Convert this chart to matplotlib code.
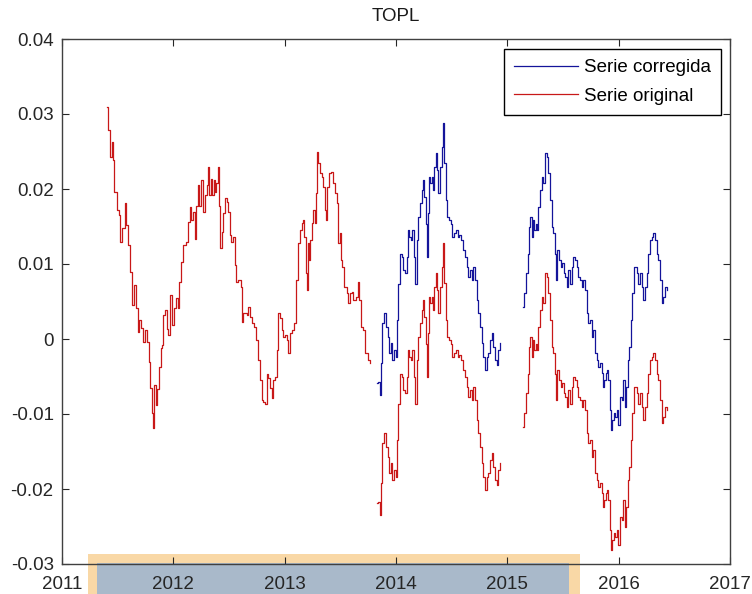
import matplotlib
matplotlib.use("Agg")
import matplotlib.pyplot as plt
from matplotlib.patches import Rectangle

plt.rcParams['font.family'] = ['Liberation Sans', 'DejaVu Sans']

# tramo 1 (solo serie original)
anio_1 = [2011.404, 2011.413, 2011.431, 2011.449, 2011.453, 2011.458, 2011.467, 2011.494, 2011.512, 2011.521,
          2011.539, 2011.566, 2011.575, 2011.593, 2011.611, 2011.629, 2011.647, 2011.665, 2011.683, 2011.692,
          2011.710, 2011.728, 2011.746, 2011.763, 2011.781, 2011.790, 2011.808, 2011.817, 2011.826, 2011.844,
          2011.853, 2011.871, 2011.889, 2011.898, 2011.907, 2011.925, 2011.943, 2011.952, 2011.970, 2011.988,
          2012.006, 2012.024, 2012.042, 2012.051, 2012.069, 2012.087, 2012.114, 2012.132, 2012.150, 2012.159,
          2012.177, 2012.195, 2012.204, 2012.222, 2012.231, 2012.249, 2012.266, 2012.284, 2012.302, 2012.311,
          2012.320, 2012.338, 2012.347, 2012.365, 2012.374, 2012.383, 2012.401, 2012.410, 2012.419, 2012.437,
          2012.446, 2012.464, 2012.482, 2012.491, 2012.509, 2012.518, 2012.536, 2012.554, 2012.563, 2012.581,
          2012.608, 2012.617, 2012.626, 2012.662, 2012.671, 2012.689, 2012.707, 2012.725, 2012.743, 2012.760,
          2012.778, 2012.796, 2012.805, 2012.823, 2012.841, 2012.850, 2012.868, 2012.886, 2012.895, 2012.913,
          2012.931, 2012.940, 2012.958, 2012.976, 2012.985, 2013.003, 2013.021, 2013.030, 2013.048, 2013.066,
          2013.084, 2013.102, 2013.120, 2013.138, 2013.156, 2013.165, 2013.174, 2013.192, 2013.201, 2013.210,
          2013.219, 2013.228, 2013.246, 2013.255, 2013.272, 2013.281, 2013.290, 2013.299, 2013.317, 2013.335,
          2013.344, 2013.362, 2013.371, 2013.380, 2013.398, 2013.416, 2013.434, 2013.452, 2013.470, 2013.479,
          2013.497, 2013.506, 2013.515, 2013.533, 2013.560, 2013.569, 2013.587, 2013.605, 2013.614, 2013.641,
          2013.659, 2013.668, 2013.686, 2013.704, 2013.721, 2013.748, 2013.766]
orig_1 = [0.0310, 0.0279, 0.0243, 0.0256, 0.0263, 0.0239, 0.0196, 0.0172, 0.0165, 0.0130,
          0.0148, 0.0181, 0.0152, 0.0125, 0.0090, 0.0045, 0.0072, 0.0041, 0.0010, 0.0025,
          0.0015, -0.0004, 0.0012, -0.0004, -0.0030, -0.0065, -0.0099, -0.0119, -0.0061, -0.0088,
          -0.0066, -0.0037, -0.0012, -0.0008, 0.0032, 0.0039, 0.0014, 0.0005, 0.0059, 0.0019,
          0.0041, 0.0055, 0.0041, 0.0076, 0.0103, 0.0125, 0.0129, 0.0156, 0.0176, 0.0159,
          0.0170, 0.0134, 0.0178, 0.0205, 0.0178, 0.0212, 0.0170, 0.0192, 0.0205, 0.0229,
          0.0192, 0.0214, 0.0192, 0.0212, 0.0196, 0.0208, 0.0229, 0.0178, 0.0121, 0.0143,
          0.0168, 0.0188, 0.0183, 0.0170, 0.0139, 0.0129, 0.0136, 0.0099, 0.0076, 0.0079,
          0.0069, 0.0023, 0.0035, 0.0032, 0.0043, 0.0030, 0.0021, 0.0016, -0.0001, -0.0028,
          -0.0055, -0.0081, -0.0084, -0.0086, -0.0046, -0.0052, -0.0065, -0.0079, -0.0055, -0.0050,
          -0.0015, 0.0035, 0.0028, 0.0012, 0.0003, 0.0005, -0.0001, -0.0019, 0.0008, 0.0012,
          0.0021, 0.0079, 0.0128, 0.0145, 0.0155, 0.0159, 0.0136, 0.0088, 0.0065, 0.0128,
          0.0105, 0.0132, 0.0155, 0.0172, 0.0155, 0.0195, 0.0250, 0.0235, 0.0221, 0.0216,
          0.0203, 0.0172, 0.0159, 0.0203, 0.0221, 0.0223, 0.0208, 0.0195, 0.0181, 0.0128,
          0.0141, 0.0105, 0.0096, 0.0069, 0.0061, 0.0048, 0.0061, 0.0063, 0.0052, 0.0056,
          0.0076, 0.0052, 0.0016, 0.0012, -0.0019, -0.0028, -0.0032]

# tramo 2
anio_2 = [2013.829, 2013.838, 2013.856, 2013.865, 2013.874, 2013.892, 2013.910, 2013.928, 2013.937, 2013.955,
          2013.964, 2013.982, 2014.000, 2014.009, 2014.018, 2014.036, 2014.054, 2014.063, 2014.081, 2014.099,
          2014.108, 2014.117, 2014.135, 2014.144, 2014.162, 2014.171, 2014.189, 2014.198, 2014.216, 2014.234,
          2014.243, 2014.252, 2014.269, 2014.278, 2014.287, 2014.296, 2014.305, 2014.323, 2014.332, 2014.341,
          2014.359, 2014.368, 2014.377, 2014.395, 2014.413, 2014.422, 2014.431, 2014.449, 2014.458, 2014.476,
          2014.494, 2014.503, 2014.521, 2014.539, 2014.557, 2014.566, 2014.584, 2014.602, 2014.620, 2014.638,
          2014.647, 2014.665, 2014.683, 2014.692, 2014.710, 2014.728, 2014.737, 2014.754, 2014.772, 2014.781,
          2014.799, 2014.817, 2014.826, 2014.844, 2014.862, 2014.871, 2014.889, 2014.907, 2014.916, 2014.934]
orig_2 = [-0.0219, -0.0217, -0.0235, -0.0192, -0.0139, -0.0125, -0.0144, -0.0157, -0.0179, -0.0165,
          -0.0188, -0.0175, -0.0184, -0.0135, -0.0086, -0.0046, -0.0050, -0.0068, -0.0072, -0.0050,
          -0.0015, -0.0024, -0.0028, -0.0015, -0.0050, -0.0086, -0.0028, 0.0003, 0.0021, 0.0039,
          0.0052, 0.0030, -0.0006, -0.0050, 0.0008, 0.0056, 0.0048, 0.0056, 0.0039, 0.0069,
          0.0088, 0.0065, 0.0035, 0.0069, 0.0096, 0.0128, 0.0075, 0.0025, 0.0003, -0.0001,
          -0.0006, -0.0024, -0.0019, -0.0015, -0.0024, -0.0021, -0.0028, -0.0041, -0.0050, -0.0064,
          -0.0077, -0.0068, -0.0081, -0.0064, -0.0081, -0.0108, -0.0125, -0.0144, -0.0165, -0.0184,
          -0.0201, -0.0184, -0.0179, -0.0161, -0.0152, -0.0171, -0.0188, -0.0195, -0.0175, -0.0165]
corr_2 = [-0.0059, -0.0057, -0.0075, -0.0032, 0.0021, 0.0035, 0.0016, 0.0003, -0.0019, -0.0005,
          -0.0028, -0.0015, -0.0024, 0.0025, 0.0074, 0.0114, 0.0110, 0.0092, 0.0088, 0.0110,
          0.0145, 0.0136, 0.0132, 0.0145, 0.0110, 0.0074, 0.0132, 0.0163, 0.0181, 0.0199,
          0.0212, 0.0190, 0.0154, 0.0110, 0.0168, 0.0216, 0.0208, 0.0216, 0.0199, 0.0229,
          0.0248, 0.0225, 0.0195, 0.0229, 0.0256, 0.0288, 0.0235, 0.0185, 0.0163, 0.0159,
          0.0154, 0.0136, 0.0141, 0.0145, 0.0136, 0.0139, 0.0132, 0.0119, 0.0110, 0.0096,
          0.0083, 0.0092, 0.0079, 0.0096, 0.0079, 0.0052, 0.0035, 0.0016, -0.0005, -0.0024,
          -0.0041, -0.0024, -0.0019, -0.0001, 0.0008, -0.0011, -0.0028, -0.0035, -0.0015, -0.0005]

# tramo 3
anio_3 = [2015.141, 2015.150, 2015.168, 2015.186, 2015.195, 2015.204, 2015.222, 2015.231, 2015.240, 2015.258,
          2015.267, 2015.275, 2015.293, 2015.311, 2015.320, 2015.338, 2015.356, 2015.365, 2015.383, 2015.401,
          2015.410, 2015.428, 2015.437, 2015.446, 2015.464, 2015.482, 2015.491, 2015.509, 2015.518, 2015.536,
          2015.545, 2015.563, 2015.581, 2015.590, 2015.608, 2015.626, 2015.635, 2015.653, 2015.671, 2015.680,
          2015.698, 2015.716, 2015.724, 2015.742, 2015.760, 2015.769, 2015.787, 2015.805, 2015.814, 2015.832,
          2015.850, 2015.859, 2015.868, 2015.886, 2015.895, 2015.904, 2015.922, 2015.931, 2015.940, 2015.958,
          2015.967, 2015.985, 2015.994, 2016.012, 2016.030, 2016.039, 2016.057, 2016.066, 2016.084, 2016.093,
          2016.111, 2016.120, 2016.138, 2016.156, 2016.165, 2016.174, 2016.192, 2016.210, 2016.219, 2016.237,
          2016.255, 2016.264, 2016.281, 2016.299, 2016.308, 2016.326, 2016.344, 2016.353, 2016.371, 2016.389,
          2016.398, 2016.416, 2016.434]
orig_3 = [-0.0117, -0.0099, -0.0072, -0.0046, -0.0011, 0.0003, -0.0024, -0.0001, -0.0015, -0.0006,
          -0.0015, 0.0016, 0.0039, 0.0056, 0.0048, 0.0088, 0.0083, 0.0061, 0.0025, -0.0011,
          -0.0019, -0.0046, -0.0081, -0.0041, -0.0055, -0.0064, -0.0059, -0.0072, -0.0077, -0.0090,
          -0.0068, -0.0086, -0.0064, -0.0050, -0.0055, -0.0064, -0.0077, -0.0081, -0.0090, -0.0081,
          -0.0095, -0.0125, -0.0139, -0.0135, -0.0157, -0.0148, -0.0179, -0.0188, -0.0197, -0.0192,
          -0.0205, -0.0224, -0.0215, -0.0205, -0.0201, -0.0215, -0.0255, -0.0281, -0.0268, -0.0259,
          -0.0264, -0.0255, -0.0275, -0.0237, -0.0241, -0.0215, -0.0250, -0.0224, -0.0188, -0.0171,
          -0.0135, -0.0099, -0.0064, -0.0064, -0.0072, -0.0086, -0.0072, -0.0090, -0.0108, -0.0090,
          -0.0072, -0.0046, -0.0028, -0.0024, -0.0019, -0.0028, -0.0046, -0.0055, -0.0081, -0.0112,
          -0.0104, -0.0090, -0.0095]
corr_3 = [0.0043, 0.0061, 0.0088, 0.0114, 0.0149, 0.0163, 0.0136, 0.0159, 0.0145, 0.0154,
          0.0145, 0.0176, 0.0199, 0.0216, 0.0208, 0.0248, 0.0243, 0.0221, 0.0185, 0.0149,
          0.0141, 0.0114, 0.0079, 0.0119, 0.0105, 0.0096, 0.0101, 0.0088, 0.0083, 0.0070,
          0.0092, 0.0074, 0.0096, 0.0110, 0.0105, 0.0096, 0.0083, 0.0079, 0.0070, 0.0079,
          0.0065, 0.0035, 0.0021, 0.0025, 0.0003, 0.0012, -0.0019, -0.0028, -0.0037, -0.0032,
          -0.0045, -0.0064, -0.0055, -0.0045, -0.0041, -0.0055, -0.0095, -0.0121, -0.0108, -0.0099,
          -0.0104, -0.0095, -0.0115, -0.0077, -0.0081, -0.0055, -0.0090, -0.0064, -0.0028, -0.0011,
          0.0025, 0.0061, 0.0096, 0.0096, 0.0088, 0.0074, 0.0088, 0.0070, 0.0052, 0.0070,
          0.0088, 0.0114, 0.0132, 0.0136, 0.0141, 0.0132, 0.0114, 0.0105, 0.0079, 0.0048,
          0.0056, 0.0070, 0.0065]

xticks = [2011, 2012, 2013, 2014, 2015, 2016, 2017]
yticks = [-0.03, -0.02, -0.01, 0, 0.01, 0.02, 0.03, 0.04]
ytick_labels = ['-0.03', '-0.02', '-0.01', '0', '0.01', '0.02', '0.03', '0.04']

azul = '#14149a'
rojo = '#c81818'

fig = plt.figure(figsize=(7.52, 5.94), dpi=100, facecolor='white')
ax = fig.add_axes([62 / 752, 1 - 564 / 594, 668 / 752, 525 / 594])
ax.set_facecolor('none')

lw = 0.9
ax.plot(anio_2, corr_2, color=azul, lw=lw, drawstyle='steps-post', label='Serie corregida')
ax.plot(anio_3, corr_3, color=azul, lw=lw, drawstyle='steps-post')
ax.plot(anio_1, orig_1, color=rojo, lw=lw, drawstyle='steps-post', label='Serie original')
ax.plot(anio_2, orig_2, color=rojo, lw=lw, drawstyle='steps-post')
ax.plot(anio_3, orig_3, color=rojo, lw=lw, drawstyle='steps-post')

ax.set_xlim(2011, 2017)
ax.set_ylim(-0.03, 0.04)
ax.set_xticks(xticks)
ax.set_xticklabels([str(t) for t in xticks])
ax.set_yticks(yticks)
ax.set_yticklabels(ytick_labels)
ax.tick_params(direction='in', length=5, width=0.8, top=True, right=True,
               labelsize=13.5, colors='#262626')
ax.tick_params(axis='x', pad=8.5)
ax.tick_params(axis='y', pad=6)
for s in ax.spines.values():
    s.set_color('#404040')
    s.set_linewidth(1.0)

ax.set_title('TOPL', fontsize=13.5, pad=13, color='#1a1a1a')

leg = ax.legend(loc='upper right', bbox_to_anchor=(0.9865, 0.981), borderaxespad=0,
                fontsize=13.5, handlelength=3.4, handletextpad=0.3, labelspacing=0.6,
                borderpad=0.55, fancybox=False, framealpha=1, edgecolor='black')
leg.get_frame().set_linewidth(1.0)

# franja resaltada bajo el eje x
fig.patches.append(Rectangle((88 / 752, 0), 492 / 752, 40 / 594, transform=fig.transFigure,
                             facecolor='#f9d8a6', edgecolor='none', zorder=-2))
fig.patches.append(Rectangle((97 / 752, 0), 472 / 752, 31 / 594, transform=fig.transFigure,
                             facecolor='#a9b9ca', edgecolor='none', zorder=-1))

fig.savefig('out.png', dpi=100, facecolor='white')
